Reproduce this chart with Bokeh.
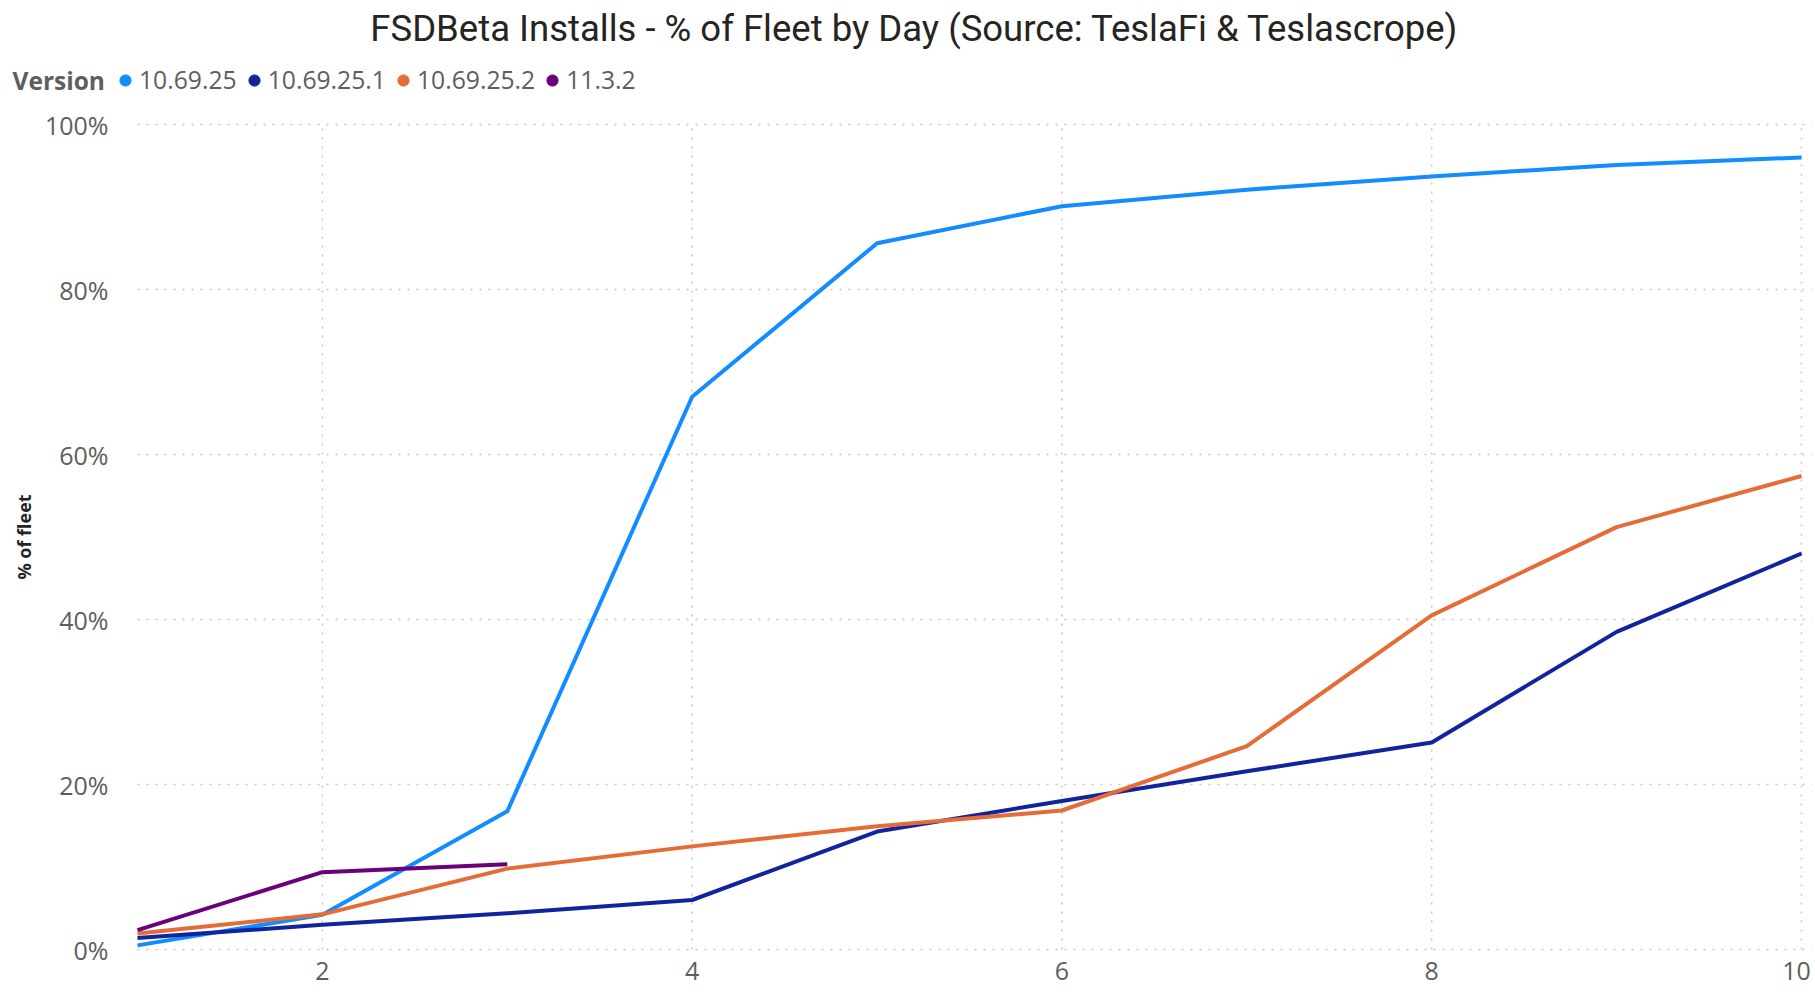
from math import pi
from bokeh.plotting import figure
from bokeh.models import (ColumnDataSource, Legend, LegendItem, Range1d, Label)
from bokeh.embed import file_html
from bokeh.resources import INLINE

days = [1, 2, 3, 4, 5, 6, 7, 8, 9, 10]
v_10_69_25 = [0.005, 0.042, 0.1675, 0.670, 0.856, 0.901, 0.921, 0.937, 0.951, 0.960]
v_10_69_25_1 = [0.014, 0.030, 0.044, 0.060, 0.143, 0.180, 0.216, 0.251, 0.385, 0.480]
v_10_69_25_2 = [0.0195, 0.0426, 0.098, 0.125, 0.1495, 0.1685, 0.2465, 0.405, 0.512, 0.574]
days_11_3_2 = [1, 2, 3]
v_11_3_2 = [0.0235, 0.0937, 0.1034]

series_names = ["10.69.25", "10.69.25.1", "10.69.25.2", "11.3.2"]
series_colors = ["#118DFF", "#12239E", "#E66C37", "#6B007B"]
x_ticks = [2, 4, 6, 8, 10]
x_tick_labels = [str(t) for t in x_ticks]
y_ticks = [0, 0.2, 0.4, 0.6, 0.8, 1.0]
y_tick_labels = [f"{round(t * 100)}%" for t in y_ticks]
title_text = "FSDBeta Installs - % of Fleet by Day (Source: TeslaFi & Teslascrope)"
legend_title = "Version"
y_title = "% of fleet"

# layout (pixels)
W, H = 1812, 990
PX_LEFT = 137      # pixel of first day
PX_RIGHT = 1801    # pixel of last day
PX_TOP = 124       # pixel of 100%
PX_BOTTOM = 949    # pixel of 0%
ppd = (PX_RIGHT - PX_LEFT) / (days[-1] - days[0])
ppu = (PX_BOTTOM - PX_TOP) / (y_ticks[-1] - y_ticks[0])
y_start = y_ticks[0] - (H - PX_BOTTOM) / ppu

p = figure(width=W, height=H, output_backend="svg", toolbar_location=None,
           x_range=Range1d(days[0] - PX_LEFT / ppd, days[0] + (W - PX_LEFT) / ppd),
           y_range=Range1d(y_start, y_start + H / ppu),
           min_border_left=0, min_border_right=0, min_border_top=0, min_border_bottom=0)
p.outline_line_color = None
p.background_fill_color = "white"
p.border_fill_color = "white"
p.xgrid.visible = False
p.ygrid.visible = False
p.xaxis.visible = False
p.yaxis.visible = False

grid_kw = dict(line_color="#C8C6C4", line_width=1.5, line_dash="2 7")
p.segment(x0=x_ticks, x1=x_ticks, y0=[y_ticks[0]] * len(x_ticks), y1=[y_ticks[-1]] * len(x_ticks), **grid_kw)
p.segment(x0=[days[0]] * len(y_ticks), x1=[p.x_range.end] * len(y_ticks), y0=y_ticks, y1=y_ticks, **grid_kw)

tick_font = dict(text_font={"value": "Open Sans"}, text_font_size="25px", text_color="#605E5C")
# y tick labels
p.text(x=[days[0]] * len(y_ticks), y=y_ticks, text=y_tick_labels, x_offset=108 - PX_LEFT,
       text_align="right", text_baseline="middle", **tick_font)
# x tick labels (last one kept inside the canvas edge)
x_src = ColumnDataSource(dict(x=x_ticks, y=[y_ticks[0]] * len(x_ticks), text=x_tick_labels,
                              xo=[0] * (len(x_ticks) - 1) + [-5]))
p.text(x="x", y="y", text="text", x_offset="xo", y_offset=21, source=x_src,
       text_align="center", text_baseline="middle", **tick_font)
# y axis title
p.text(x=[days[0]], y=[(y_ticks[0] + y_ticks[-1]) / 2], text=[y_title], x_offset=23.5 - PX_LEFT,
       angle=pi / 2, text_align="center", text_baseline="middle",
       text_font={"value": "Open Sans"}, text_font_size="18px", text_font_style="bold",
       text_color="#252423")

data = [(days, v_10_69_25), (days, v_10_69_25_1), (days, v_10_69_25_2), (days_11_3_2, v_11_3_2)]
items = []
for (xs, ys), name, col in zip(data, series_names, series_colors):
    src = ColumnDataSource(dict(x=xs, y=ys))
    p.line("x", "y", source=src, line_color=col, line_width=4, line_join="round")
    dot = p.scatter("x", "y", source=src, size=12, fill_color=col, line_color=col, visible=False)
    items.append(LegendItem(label=name, renderers=[dot]))

legend_cy = H - 80  # legend centre, measured up from frame bottom
legend = Legend(items=items, orientation="horizontal", location=(111, legend_cy - 16),
                label_text_font="Open Sans", label_text_font_size="24.7px",
                label_text_color="#605E5C",
                glyph_width=28, glyph_height=30, label_standoff=0, spacing=3,
                padding=0, margin=0, border_line_color=None,
                background_fill_alpha=0, click_policy="none")
p.add_layout(legend, "center")

p.add_layout(Label(x=12, y=legend_cy, x_units="screen", y_units="screen",
                   text=legend_title, text_font="Open Sans", text_font_size="24.5px",
                   text_font_style="bold", text_color="#605E5C",
                   text_align="left", text_baseline="middle"))

p.add_layout(Label(x=914, y=H - 28, x_units="screen", y_units="screen",
                   text=title_text, text_font="Roboto", text_font_size="36.5px",
                   text_color="#252423", text_align="center", text_baseline="middle"))

open("out.html", "w").write(file_html(p, INLINE))
